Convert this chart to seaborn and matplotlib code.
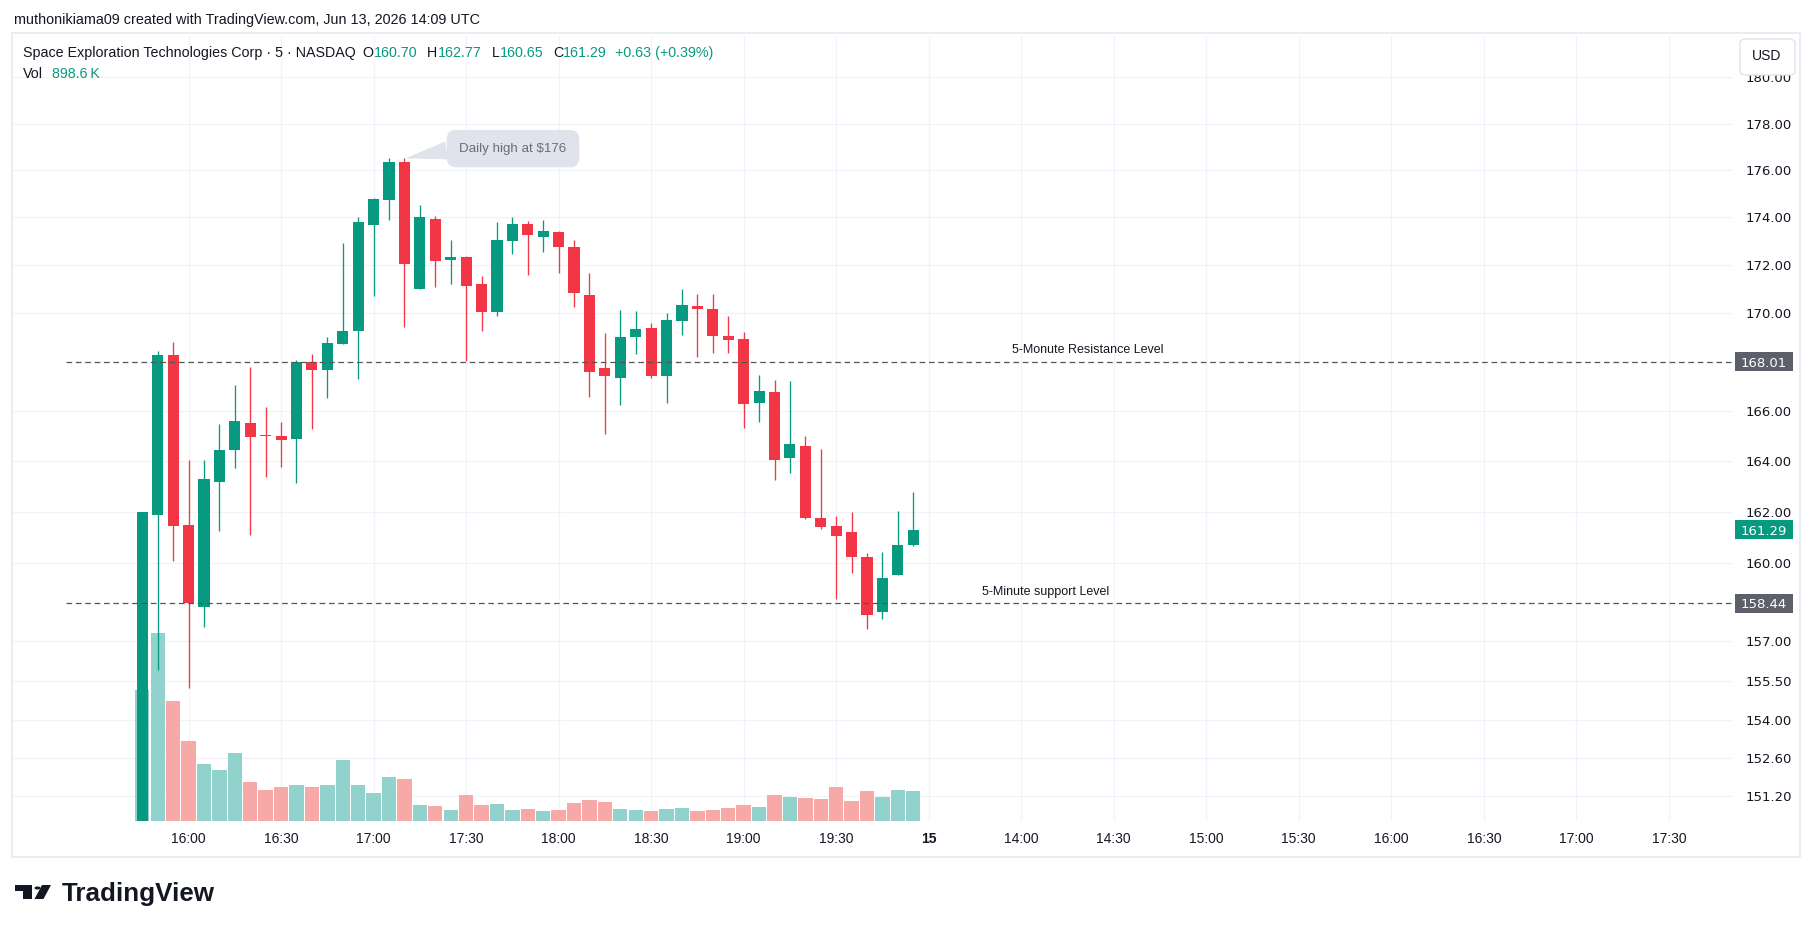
import numpy as np
import pandas as pd
import matplotlib
matplotlib.use("Agg")
import matplotlib.pyplot as plt
from matplotlib.patches import Rectangle, FancyBboxPatch, Polygon, Circle
from matplotlib.ticker import NullLocator
import seaborn as sns

# 5-minute bars
opens = [149.90, 161.88, 168.26, 161.49, 158.31, 163.19, 164.44, 165.51, 165.04, 164.99,
         164.87, 168.01, 167.66, 168.72, 169.25, 173.69, 174.72, 176.33, 170.99, 173.94,
         172.21, 172.31, 171.22, 170.03, 172.99, 173.73, 173.16, 173.36, 172.76, 170.76,
         167.73, 167.35, 169.01, 169.40, 167.42, 169.66, 170.30, 170.18, 169.07, 168.95,
         166.32, 166.76, 164.14, 164.61, 161.76, 161.45, 161.21, 160.25, 158.11, 159.53, 160.70]
highs = [162.00, 168.44, 168.80, 164.03, 164.03, 165.47, 167.04, 167.81, 166.16, 165.55,
         168.07, 168.34, 169.02, 172.92, 174.01, 174.82, 176.50, 176.50, 174.50, 174.03,
         173.03, 172.36, 171.53, 173.79, 174.01, 173.82, 173.90, 173.40, 173.02, 171.68,
         169.20, 170.14, 170.10, 169.60, 170.01, 171.00, 170.79, 170.79, 169.89, 169.23,
         167.45, 167.25, 167.21, 165.01, 164.50, 161.84, 162.00, 160.38, 160.42, 162.04, 162.77]
lows = [149.90, 155.90, 160.06, 155.20, 157.53, 161.26, 163.71, 161.07, 163.36, 163.76,
        163.12, 165.28, 166.53, 168.72, 167.30, 170.69, 173.87, 169.42, 170.99, 171.07,
        171.19, 168.03, 169.25, 169.86, 172.44, 171.57, 172.53, 171.65, 170.24, 166.57,
        165.09, 166.24, 168.30, 167.35, 166.33, 169.09, 168.20, 168.35, 168.35, 165.31,
        165.55, 163.26, 163.54, 161.72, 161.33, 158.62, 159.61, 157.44, 157.84, 159.53, 160.65]
closes = [162.00, 168.26, 161.45, 158.44, 163.30, 164.43, 165.59, 164.96, 165.00, 164.84,
          168.01, 167.66, 168.75, 169.28, 173.78, 174.75, 176.33, 172.03, 173.99, 172.15,
          172.31, 171.11, 170.03, 173.02, 173.73, 173.24, 173.40, 172.74, 170.82, 167.58,
          167.42, 169.03, 169.36, 167.42, 169.73, 170.34, 170.15, 169.05, 168.88, 166.28,
          166.80, 164.05, 164.69, 161.76, 161.41, 161.05, 160.22, 157.99, 159.40, 160.68, 161.29]
# volume in thousands
volumes = [3898, 5581, 3566, 2384, 1693, 1523, 2006, 1154, 927, 1012,
           1069, 1012, 1069, 1807, 1069, 842, 1296, 1239, 473, 445,
           331, 785, 473, 501, 331, 359, 303, 331, 530, 615,
           558, 359, 331, 303, 359, 388, 303, 331, 388, 473,
           416, 757, 700, 672, 643, 1012, 587, 899, 700, 927, 898.6]

first_bar = "15:45"
day1_ticks = ["16:00", "16:30", "17:00", "17:30", "18:00", "18:30", "19:00", "19:30"]
day2_open = "13:30"
day2_label = "15"
day2_ticks = ["14:00", "14:30", "15:00", "15:30", "16:00", "16:30", "17:00", "17:30"]

price_ticks = [151.2, 152.6, 154.0, 155.5, 157.0, 160.0, 162.0, 164.0, 166.0,
               170.0, 172.0, 174.0, 176.0, 178.0, 180.0]
resistance, support = 168.01, 158.44
last_price = 161.29

UP, DOWN = "#089981", "#F23645"
UP_VOL, DOWN_VOL = "#92D2CC", "#F7A9A7"
GRID = "#F0F3FA"
TXT = "#131722"

W, H = 1814, 931
sns.set_style("white")
plt.rcParams['font.family'] = ['Liberation Sans', 'DejaVu Sans']


def fx(x):
    return x / W


def fy(y):
    return 1 - y / H


def minutes(t):
    h, m = t.split(":")
    return int(h) * 60 + int(m)


fig = plt.figure(figsize=(W / 100, H / 100), dpi=100)
ax = fig.add_axes([fx(13), fy(821), fx(1733) - fx(13), fy(36) - fy(821)])
ax_vol = ax.twinx()
ax.set_zorder(3)
ax_vol.set_zorder(2)
ax.patch.set_visible(False)

n = len(opens)
o, h, l, c = map(np.asarray, (opens, highs, lows, closes))
idx = np.arange(n)
up = c >= o
colors = np.where(up, UP, DOWN)

# volume (bottom layer)
vol_df = pd.DataFrame({"bar": idx, "volume": volumes, "side": np.where(up, "up", "down")})
sns.barplot(data=vol_df, x="bar", y="volume", hue="side",
            palette={"up": UP_VOL, "down": DOWN_VOL}, native_scale=True,
            dodge=False, width=0.93, errorbar=None, saturation=1,
            linewidth=0, legend=False, ax=ax_vol)

ymin, ymax = 150.29, 181.82
vol_top = 23280
ax_vol.set_ylim(0, vol_top)

# tick positions in bar units
tick_pos, tick_lab = [], []
for t in day1_ticks:
    tick_pos.append((minutes(t) - minutes(first_bar)) / 5)
    tick_lab.append(t)
tick_pos.append(n)
tick_lab.append(day2_label)
for t in day2_ticks:
    tick_pos.append(n + (minutes(t) - minutes(day2_open)) / 5)
    tick_lab.append(t)

# grid drawn on the volume layer so bars sit over it
for p in price_ticks:
    frac = (np.log(p) - np.log(ymin)) / (np.log(ymax) - np.log(ymin))
    ax_vol.axhline(frac * vol_top, color=GRID, lw=0.9, zorder=0)
for xp in tick_pos:
    ax_vol.axvline(xp, color=GRID, lw=0.9, zorder=0)

# candles
ax.vlines(idx, l, h, colors=colors, lw=0.95, zorder=3)
body_lo = np.minimum(o, c)
body_h = np.maximum(np.abs(c - o), 0.04)
ax.bar(idx, body_h, bottom=body_lo, width=0.72, color=colors, linewidth=0, zorder=4)

ax.set_yscale("log")
ax.set_ylim(ymin, ymax)
xlo, xhi = -8.385, 103.16
ax.set_xlim(xlo, xhi)

# levels
ax.hlines([resistance, support], -4.95, xhi, colors="#555555", lw=0.9,
          linestyles=(0, (4.5, 3)), zorder=5)
ax.annotate("5-Monute Resistance Level", (61.3, resistance), xytext=(0, 4),
            textcoords="offset points", ha="center", va="bottom", fontsize=9, color=TXT)
ax.annotate("5-Minute support Level", (58.6, support), xytext=(0, 4),
            textcoords="offset points", ha="center", va="bottom", fontsize=9, color=TXT)

# callout
ax.annotate("Daily high at $176", xy=(17.04, 176.5), xytext=(24.04, 176.92),
            ha="center", va="center", fontsize=9.6, color="#6A6D78",
            bbox=dict(boxstyle="round,pad=0.95,rounding_size=0.7", fc="#E0E3EB", ec="none"),
            arrowprops=dict(arrowstyle="wedge,tail_width=1.35,shrink_factor=0.5",
                            fc="#E0E3EB", ec="none", relpos=(0.0, 0.55),
                            shrinkA=0, shrinkB=0),
            zorder=6)

# axes formatting
for a in (ax, ax_vol):
    for s in a.spines.values():
        s.set_visible(False)
ax_vol.set_yticks([])
ax_vol.set_xlabel("")
ax_vol.set_ylabel("")
ax_vol.tick_params(right=False, labelright=False, bottom=False, labelbottom=False)

ax.yaxis.tick_right()
ax.set_yticks(price_ticks)
ax.set_yticklabels([f"{p:.2f}" for p in price_ticks])
ax.yaxis.set_minor_locator(NullLocator())
ax.tick_params(axis="y", length=0, pad=9, labelsize=9.5, labelcolor=TXT)
for lab in ax.get_yticklabels():
    lab.set_fontfamily("DejaVu Sans")

ax.set_xticks(tick_pos)
ax.set_xticklabels(tick_lab)
ax.tick_params(axis="x", length=0, pad=8, labelsize=10, labelcolor=TXT)
for lab in ax.get_xticklabels():
    if lab.get_text() == day2_label:
        lab.set_fontweight("bold")
ax.set_xlim(xlo, xhi)
ax.set_xlabel("")
ax.set_ylabel("")
ax.grid(False)

# price axis tags
ytr = ax.get_yaxis_transform()
for val, col in [(resistance, "#5D606B"), (support, "#5D606B"), (last_price, UP)]:
    lo_, hi_ = val * np.exp(-9.5 / 4120), val * np.exp(9.5 / 4120)
    ax.add_patch(Rectangle((1.0012, lo_), 0.0337, hi_ - lo_, transform=ytr,
                           fc=col, ec="none", clip_on=False, zorder=7))
    ax.text(1.0012 + 0.0337 / 2, val, f"{val:.2f}", transform=ytr, ha="center",
            va="center_baseline", fontsize=9.5, color="white", family="DejaVu Sans",
            clip_on=False, zorder=8)

# chart frame and USD button
fig.add_artist(Rectangle((fx(12), fy(857)), fx(1800) - fx(12), fy(33) - fy(857),
                         transform=fig.transFigure, fill=False, ec="#E9ECF2", lw=1.4, zorder=10))
fig.add_artist(FancyBboxPatch((fx(1740), fy(75)), fx(1795) - fx(1740), fy(39) - fy(75),
                              boxstyle="round,pad=0,rounding_size=0.004",
                              transform=fig.transFigure, fc="white", ec="#E0E3EB",
                              lw=1.0, zorder=10))
fig.text(fx(1767), fy(56), "USD", ha="center", va="center", fontsize=10, color=TXT, zorder=11)

# header texts
fig.text(fx(14), fy(20), "muthonikiama09 created with TradingView.com, Jun 13, 2026 14:09 UTC",
         ha="left", va="center", fontsize=10.4, color=TXT, zorder=11)

renderer = fig.canvas.get_renderer()
header = [("Space Exploration Technologies Corp \u00b7 5 \u00b7 NASDAQ", TXT, 7),
          ("O", TXT, 0), ("160.70", UP, 10),
          ("H", TXT, 0), ("162.77", UP, 10),
          ("L", TXT, 0), ("160.65", UP, 10),
          ("C", TXT, 0), ("161.29", UP, 8),
          ("+0.63 (+0.39%)", UP, 0)]
xcur = 23
for txt, col, gap in header:
    t = fig.text(fx(xcur), fy(53), txt, ha="left", va="center", fontsize=10.3,
                 color=col, zorder=11)
    xcur += t.get_window_extent(renderer).width + gap
t = fig.text(fx(23), fy(74), "Vol", ha="left", va="center", fontsize=10.3, color=TXT, zorder=11)
fig.text(fx(23) + (t.get_window_extent(renderer).width + 9) / W, fy(74), "898.6\u2009K",
         ha="left", va="center", fontsize=10.3, color=UP, zorder=11)

# TradingView logo
logo = "#131722"
fig.add_artist(Polygon([(fx(15), fy(885)), (fx(32), fy(885)), (fx(32), fy(899)),
                        (fx(23), fy(899)), (fx(23), fy(891)), (fx(15), fy(891))],
                       closed=True, transform=fig.transFigure, fc=logo, ec="none", zorder=10))
fig.add_artist(Circle((fx(37.5), fy(888)), 3.0 / W, transform=fig.transFigure,
                      fc=logo, ec="none", zorder=10))
fig.add_artist(Polygon([(fx(42), fy(885)), (fx(51), fy(885)), (fx(43.5), fy(899)),
                        (fx(34.5), fy(899))],
                       closed=True, transform=fig.transFigure, fc=logo, ec="none", zorder=10))
fig.text(fx(62), fy(894), "TradingView", ha="left", va="center", fontsize=18.7,
         fontweight="bold", color=logo, zorder=11)

fig.savefig("out.png", dpi=100, facecolor="white")
